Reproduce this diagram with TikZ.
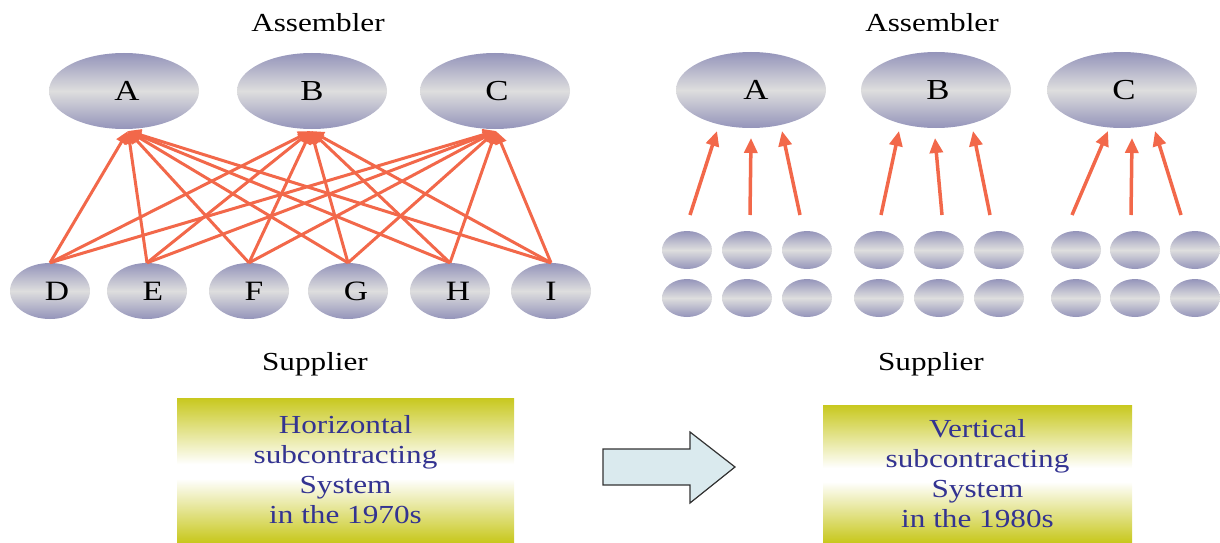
\documentclass[tikz,border=0pt]{standalone}
\usepackage{fontspec}
\setmainfont{Liberation Serif}[FakeStretch=1.2]
\usetikzlibrary{arrows.meta,shapes.geometric}
\definecolor{ellblue}{RGB}{148,148,186}
\definecolor{ellgray}{RGB}{222,222,222}
\definecolor{arr}{RGB}{242,104,74}
\definecolor{txtblue}{RGB}{51,51,145}
\definecolor{ylw}{RGB}{200,200,30}
\definecolor{arrfill}{RGB}{218,234,238}
\pgfdeclareverticalshading{boxshade}{100bp}{color(0bp)=(ylw); color(25bp)=(ylw); color(47bp)=(white); color(52bp)=(white); color(75bp)=(ylw); color(100bp)=(ylw)}
\begin{document}
\begin{tikzpicture}[x=1pt,y=-1pt,
  ell/.style={ellipse, inner sep=0pt, top color=ellblue, bottom color=ellblue, middle color=ellgray},
  big/.style={ell, minimum width=150pt, minimum height=76pt, font=\fontsize{29}{29}\selectfont},
  supp/.style={ell, minimum width=80pt, minimum height=56pt, font=\fontsize{28}{28}\selectfont},
  small/.style={ell, minimum width=50pt, minimum height=38pt},
  link/.style={draw=arr, line width=3pt, -{Triangle[length=13pt,width=11pt]}},
  rlink/.style={draw=arr, line width=3.5pt, -{Triangle[length=15pt,width=13pt]}},
  lab/.style={font=\fontsize{26}{26}\selectfont, anchor=base},
  sysbox/.style={shade, shading=boxshade, inner sep=0pt, text=txtblue, align=center, font=\fontsize{26}{30}\selectfont},
  blockarrow/.style={draw=black!80, fill=arrfill, line width=1.2pt, line join=miter}
]
\useasboundingbox (0,0) rectangle (1220,543);

% labels
\node[lab] (asmL) at (318,32) {Assembler};
\node[lab] (asmR) at (932,32) {Assembler};
\node[lab] (supL) at (315,370) {Supplier};
\node[lab] (supR) at (931,370) {Supplier};

% left: horizontal system
\node[big] (A) at (124,91) {\hspace*{6pt}A};
\node[big] (B) at (312,91) {B};
\node[big] (C) at (495,91) {\hspace*{4pt}C};
\coordinate (tA) at (128,131);
\coordinate (tB) at (311,131);
\coordinate (tC) at (496,131);

\node[supp] (D) at (50,291) {\hspace*{14pt}D};
\node[supp] (E) at (147,291) {\hspace*{12pt}E};
\node[supp] (F) at (249,291) {\hspace*{10pt}F};
\node[supp] (G) at (348,291) {\hspace*{16pt}G};
\node[supp] (H) at (450,291) {\hspace*{16pt}H};
\node[supp] (I) at (551,291) {I};

\foreach \s in {D,E,F,G,H,I}
  \foreach \t in {tA,tB,tC}
    \draw[link] (\s.north) -- (\t);

% right: vertical system
\node[big] (RA) at (751,90) {\hspace*{10pt}A};
\node[big] (RB) at (936,90) {\hspace*{4pt}B};
\node[big] (RC) at (1122,90) {\hspace*{4pt}C};

\foreach \x [count=\i] in {687,747,807,879,939,999,1076,1135,1195} {
  \node[small] (sa\i) at (\x,250) {};
  \node[small] (sb\i) at (\x,298) {};
}

\coordinate (ra1) at (690,215);  \coordinate (ta1) at (717,131);
\coordinate (ra2) at (750,215);  \coordinate (ta2) at (751,138);
\coordinate (ra3) at (800,215);  \coordinate (ta3) at (782,131);
\coordinate (rb1) at (881,215);  \coordinate (tb1) at (899,131);
\coordinate (rb2) at (942,215);  \coordinate (tb2) at (935,138);
\coordinate (rb3) at (990,215);  \coordinate (tb3) at (973,131);
\coordinate (rc1) at (1072,215); \coordinate (tc1) at (1108,131);
\coordinate (rc2) at (1131,215); \coordinate (tc2) at (1132,138);
\coordinate (rc3) at (1181,215); \coordinate (tc3) at (1155,131);
\foreach \g in {a,b,c}
  \foreach \k in {1,2,3}
    \draw[rlink] (r\g\k) -- (t\g\k);

% boxes
\node[sysbox, minimum width=337pt, minimum height=144pt] (hbox) at (345.5,470)
  {Horizontal\\subcontracting\\System\\in the 1970s};
\node[sysbox, minimum width=309pt, minimum height=137pt] (vbox) at (977.5,473.5)
  {Vertical\\subcontracting\\System\\in the 1980s};

% block arrow
\draw[blockarrow] (603,449) -- (690,449) -- (690,432) -- (735,467) -- (690,503)
  -- (690,485) -- (603,485) -- cycle;
\end{tikzpicture}
\end{document}
